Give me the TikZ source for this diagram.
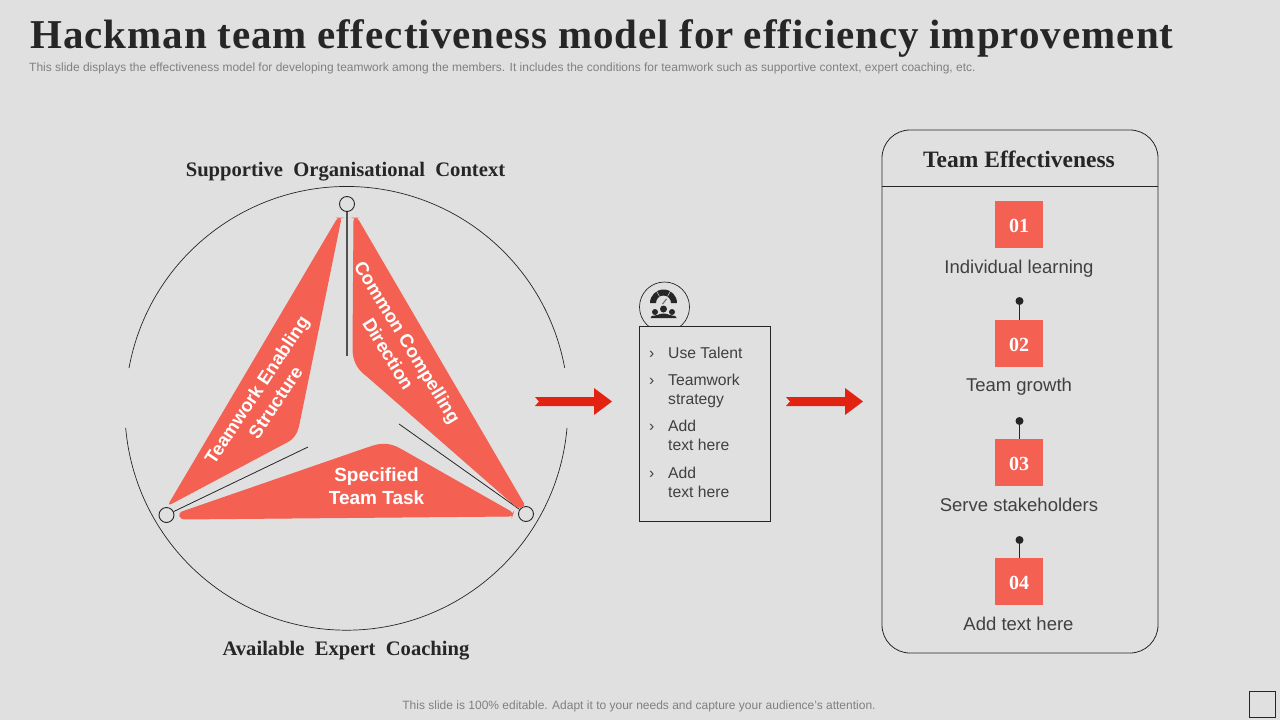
\documentclass[tikz,border=0pt]{standalone}
\usepackage{fontspec}
\setmainfont{Liberation Serif}
\setsansfont{Liberation Sans}
\newfontfamily\headfont[WordSpace=2]{Liberation Serif}
\newfontfamily\titlefont[WordSpace=0.9,LetterSpace=2.5]{Liberation Serif}
\definecolor{slidebg}{HTML}{E0E0E0}
\definecolor{blade}{HTML}{F46153}
\definecolor{arrowred}{HTML}{E32311}
\definecolor{inkdark}{HTML}{262626}
\definecolor{inktext}{HTML}{404040}
\definecolor{inkgrey}{HTML}{808080}
\tikzset{
    blade/.style={fill=blade, draw=blade, line width=1pt, rounded corners=3pt},
    bladetext/.style={text=white, font=\sffamily\bfseries\fontsize{18.5}{22.5}\selectfont, align=center},
    ring/.style={circle, draw=inkdark, fill=slidebg, line width=0.9pt, minimum size=15pt, inner sep=0pt},
    spoke/.style={draw=inkdark, line width=0.8pt},
    heading/.style={text=inkdark, font=\headfont\bfseries\fontsize{20.6}{24}\selectfont},
    numbox/.style={fill=blade, minimum size=47.5pt, inner sep=0pt, text=white, font=\bfseries\fontsize{20}{24}\selectfont},
    numlabel/.style={text=inktext, font=\sffamily\fontsize{18.5}{22}\selectfont},
    listtext/.style={anchor=west, inner sep=0pt, text=inktext, align=left, font=\sffamily\fontsize{15.7}{19}\selectfont},
    flowarrow/.style={fill=arrowred},
    dot/.style={circle, fill=inkdark, minimum size=8pt, inner sep=0pt},
}
\begin{document}
\begin{tikzpicture}[x=1pt,y=-1pt]
    \useasboundingbox (0,0) rectangle (1280,720);
    \fill [slidebg] (0,0) rectangle (1280,720);

    % header and footer
    \node (title) [anchor=west, inner sep=0pt, text=inkdark] at (30,38)
        {\titlefont\bfseries\fontsize{41}{48}\selectfont Hackman team effectiveness model for efficiency improvement};
    \node (subtitle) [anchor=west, inner sep=0pt, text=inkgrey] at (29,68)
        {\sffamily\fontsize{11.97}{14}\selectfont This slide displays the effectiveness model for developing teamwork among the members. It includes the conditions for teamwork such as supportive context, expert coaching, etc.};
    \node (footer) [inner sep=0pt, text=inkgrey] at (639,706)
        {\sffamily\fontsize{12}{14}\selectfont This slide is 100\% editable. Adapt it to your needs and capture your audience's attention.};
    \node (corner) [draw=inkdark, line width=0.8pt, minimum size=26pt, inner sep=0pt] at (1262,704.5) {};

    % outer circle, broken at both sides
    \draw [inkdark, line width=0.7pt] (129,368) arc [start angle=-169.6, end angle=-10.4, radius=221.5];
    \draw [inkdark, line width=0.7pt] (567,428) arc [start angle=5, end angle=175, radius=221.5];
    \node (topring) [ring] at (347,204) {};
    \node (leftring) [ring] at (166.5,515) {};
    \node (rightring) [ring] at (526,514) {};
    \coordinate (topend) at (347,356);
    \coordinate (leftend) at (308,447);
    \coordinate (rightend) at (399,424);
    \draw [spoke, line width=1.2pt, inkdark!80] (topring) -- (topend);
    \draw [spoke] (leftring) -- (leftend);
    \draw [spoke] (rightring) -- (rightend);

    \node (supportive) [heading] at (345.5,172) {Supportive Organisational Context};
    \node (coaching) [heading] at (346,651) {Available Expert Coaching};

    % the three blades
    \path [blade] (341,218) -- (338,218) -- (168.5,505) -- (285,443) .. controls (293,439) and (297,433) .. (299,424) -- cycle;
    \path [blade] (354,218) -- (357,218) -- (525,506) -- (518,508) -- (367,376) .. controls (357,368) and (353,360) .. (353,345) -- cycle;
    \path [blade] (179,513) -- (370,447) .. controls (383,443) and (391,444) .. (402,450) -- (513,513) -- (512,516) -- (181,519) -- cycle;
    \node (teamwork) [bladetext, rotate=56.5] at (266,396) {Teamwork Enabling\\Structure};
    \node (common) [bladetext, rotate=-58.5] at (398,348) {Common Compelling\\Direction};
    \node (specified) [bladetext, font=\sffamily\bfseries\fontsize{19}{22.5}\selectfont] at (376.5,486) {Specified\\Team Task};

    % arrows
    \path [flowarrow] (535,397) -- (594,397) -- (594,388) -- (612,401.5) -- (594,415) -- (594,406) -- (535,406) -- (539,401.5) -- cycle;
    \begin{scope}[shift={(251,0)}]
        \path [flowarrow] (535,397) -- (594,397) -- (594,388) -- (612,401.5) -- (594,415) -- (594,406) -- (535,406) -- (539,401.5) -- cycle;
    \end{scope}

    % icon above the list
    \node (iconring) [circle, draw=inkdark, line width=0.7pt, minimum size=50pt, inner sep=0pt] at (664.5,307) {};
    \begin{scope}[shift={(663.5,306)}]
        \fill [inkdark] (-13.5,-3) arc [start angle=180, end angle=360, radius=13.5] -- (7.5,-3) arc [start angle=0, end angle=-180, radius=7.5] -- cycle;
        \draw [slidebg, line width=0.5pt] (-4,-9.5) -- (-7,-15) (4,-9.5) -- (7,-15);
        \draw [inkdark!70, line width=1pt] (-1,-2) -- (3,-7);
        \fill [inkdark] (0,3) circle [radius=3.5];
        \fill [inkdark] (-8.5,6) circle [radius=3];
        \fill [inkdark] (8.5,6) circle [radius=3];
        \fill [inkdark] (-13,12) .. controls (-13,10) and (-11,9.5) .. (-8.5,9.5) .. controls (-6,9.5) and (-4,7.5) .. (0,7.5) .. controls (4,7.5) and (6,9.5) .. (8.5,9.5) .. controls (11,9.5) and (13,10) .. (13,12) -- cycle;
    \end{scope}

    % list box
    \node (listbox) [draw=inkdark, fill=slidebg, line width=0.8pt, minimum width=131pt, minimum height=195pt, inner sep=0pt] at (705.3,423.5) {};
    \node (chevron1) [listtext] at (649,355) {›};
    \node (chevron2) [listtext] at (649,382) {›};
    \node (chevron3) [listtext] at (649,428) {›};
    \node (chevron4) [listtext] at (649,475) {›};
    \node (item1) [listtext] at (668,353) {Use Talent};
    \node (item2) [listtext] at (668,390.5) {Teamwork\\strategy};
    \node (item3) [listtext] at (668,435.5) {Add\\text here};
    \node (item4) [listtext] at (668,482.5) {Add\\text here};

    % team effectiveness panel
    \node (panel) [draw=inkdark, line width=0.8pt, rounded corners=28pt, minimum width=276pt, minimum height=523pt, inner sep=0pt] at (1020,391.5) {};
    \draw [inkdark, line width=0.8pt] (panel.west |- 0,186) -- (panel.east |- 0,186);
    \node (paneltitle) [heading, font=\bfseries\fontsize{23.5}{27}\selectfont] at (1019,159) {Team Effectiveness};

    \node (box1) [numbox] at (1019,224.5) {};
    \node (box2) [numbox] at (1019,343.5) {};
    \node (box3) [numbox] at (1019,462.5) {};
    \node (box4) [numbox] at (1019,581.5) {};
    \node (num1) [numbox, fill=none] at (1019,225.5) {01};
    \node (num2) [numbox, fill=none] at (1019,344.5) {02};
    \node (num3) [numbox, fill=none] at (1019,463.5) {03};
    \node (num4) [numbox, fill=none] at (1019,582.5) {04};
    \node (label1) [numlabel] at (1019,268.5) {Individual learning};
    \node (label2) [numlabel] at (1019,386.5) {Team growth};
    \node (label3) [numlabel] at (1019,505) {Serve stakeholders};
    \node (label4) [numlabel] at (1018.5,624) {Add text here};
    \node (dot2) [dot] at (1019.5,301) {};
    \node (dot3) [dot] at (1019.5,421) {};
    \node (dot4) [dot] at (1019.5,540) {};
    \draw [inkdark, line width=0.8pt] (dot2) -- (dot2 |- box2.north);
    \draw [inkdark, line width=0.8pt] (dot3) -- (dot3 |- box3.north);
    \draw [inkdark, line width=0.8pt] (dot4) -- (dot4 |- box4.north);
\end{tikzpicture}
\end{document}
